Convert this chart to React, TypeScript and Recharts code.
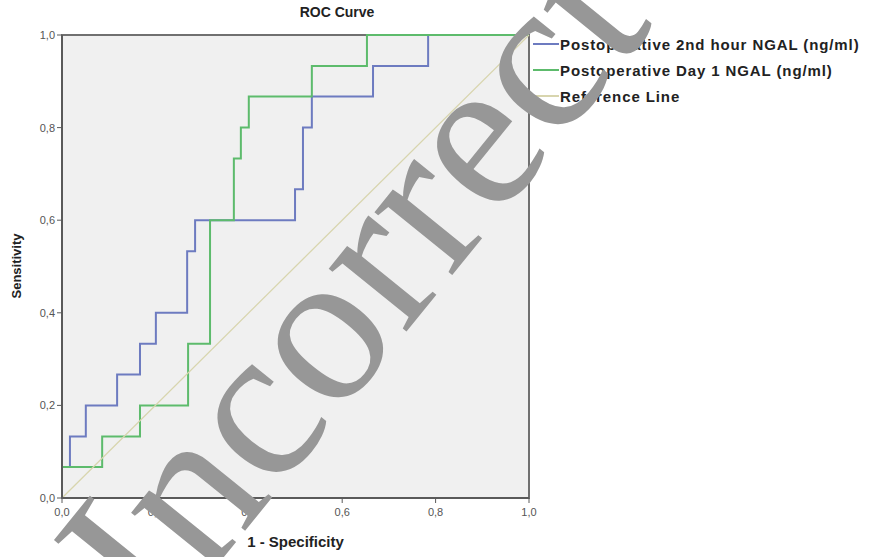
import { LineChart, Line, XAxis, YAxis, ReferenceArea } from 'recharts'

// ROC curve: 1 - specificity (x) vs sensitivity (y)
const axisTicks = [0, 0.2, 0.4, 0.6, 0.8, 1]

const hour2Fpr = [0, 0, 0.017, 0.051, 0.118, 0.167, 0.201, 0.268, 0.285, 0.499, 0.516, 0.535, 0.666, 0.784, 1]
const hour2Sens = [0, 0.067, 0.133, 0.2, 0.267, 0.333, 0.4, 0.533, 0.6, 0.667, 0.8, 0.867, 0.933, 1, 1]

const day1Fpr = [0, 0, 0.086, 0.167, 0.27, 0.317, 0.368, 0.383, 0.4, 0.535, 0.653, 1]
const day1Sens = [0, 0.067, 0.133, 0.2, 0.333, 0.6, 0.733, 0.8, 0.867, 0.933, 1, 1]

const refFpr = [0, 1]
const refSens = [0, 1]

const toPoints = (xs: number[], ys: number[]) => xs.map((x, i) => ({ x, y: ys[i] }))

const series = [
  { name: 'Postoperative 2nd hour NGAL (ng/ml)', color: '#6d7bc0', width: 2, data: toPoints(hour2Fpr, hour2Sens) },
  { name: 'Postoperative Day 1 NGAL (ng/ml)', color: '#5dbb6c', width: 2, data: toPoints(day1Fpr, day1Sens) },
  { name: 'Reference Line', color: '#d8d5ae', width: 1.3, data: toPoints(refFpr, refSens) },
]

const fmt = (v: number) => v.toFixed(1).replace('.', ',')
const font = '"Liberation Sans", Arial, sans-serif'

export default function App() {
  return (
    <div style={{ position: 'absolute', left: 0, top: 0, width: 875, height: 557, background: '#fff', fontFamily: font }}>
      <LineChart width={875} height={557} margin={{ top: 35, right: 346, bottom: 0, left: 0 }}>
        <ReferenceArea x1={0} x2={1} y1={0} y2={1} fill="#f0f0f0" fillOpacity={1} stroke="#707070" strokeWidth={2} />
        <XAxis
          type="number"
          dataKey="x"
          domain={[0, 1]}
          ticks={axisTicks}
          tickFormatter={fmt}
          height={59}
          axisLine={{ stroke: '#5a5a5a', strokeWidth: 2 }}
          tickLine={{ stroke: '#5a5a5a' }}
          tickSize={5}
          tickMargin={5}
          tick={{ fontSize: 11, fill: '#555', fontFamily: font }}
        />
        <YAxis
          type="number"
          dataKey="y"
          domain={[0, 1]}
          ticks={axisTicks}
          tickFormatter={fmt}
          width={62}
          axisLine={{ stroke: '#5a5a5a', strokeWidth: 2 }}
          tickLine={{ stroke: '#5a5a5a' }}
          tickSize={5}
          tickMargin={2}
          tick={{ fontSize: 11, fill: '#555', fontFamily: font }}
        />
        {series.map((s) => (
          <Line
            key={s.name}
            name={s.name}
            data={s.data}
            dataKey="y"
            type={s.name === 'Reference Line' ? 'linear' : 'stepAfter'}
            stroke={s.color}
            strokeWidth={s.width}
            dot={false}
            activeDot={false}
            isAnimationActive={false}
          />
        ))}
      </LineChart>

      <div style={{ position: 'absolute', left: 0, width: 674, top: 4, textAlign: 'center', fontWeight: 'bold', fontSize: 14, color: '#222' }}>
        ROC Curve
      </div>
      <div style={{ position: 'absolute', left: 62, width: 467, top: 533, textAlign: 'center', fontWeight: 'bold', fontSize: 15, color: '#222' }}>
        1 - Specificity
      </div>
      <div
        style={{
          position: 'absolute', left: 16, top: 266, transform: 'translate(-50%, -50%) rotate(-90deg)',
          fontWeight: 'bold', fontSize: 13, color: '#222', whiteSpace: 'nowrap',
        }}
      >
        Sensitivity
      </div>

      <div style={{ position: 'absolute', left: 533, top: 31 }}>
        {series.map((s) => (
          <div key={s.name} style={{ display: 'flex', alignItems: 'center', height: 26 }}>
            <div style={{ width: 26, height: 2, background: s.color, marginRight: 1 }} />
            <span style={{ fontWeight: 'bold', fontSize: 15, letterSpacing: 0.9, color: '#222', whiteSpace: 'nowrap' }}>{s.name}</span>
          </div>
        ))}
      </div>

      <svg width={875} height={557} style={{ position: 'absolute', left: 0, top: 0, pointerEvents: 'none' }}>
        <text
          x={160}
          y={636}
          transform="rotate(-51 160 636)"
          fontFamily='"Liberation Serif", "DejaVu Serif", serif'
          fontSize={218}
          fill="#979797"
        >
          Incorrect
        </text>
      </svg>
    </div>
  )
}
